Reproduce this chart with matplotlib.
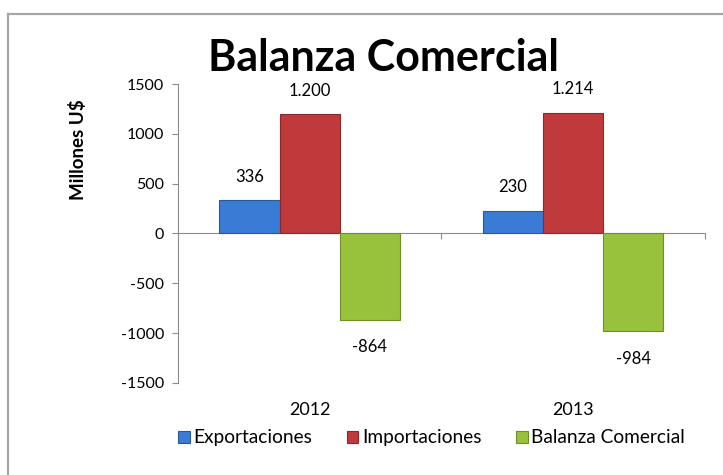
import numpy as np
import matplotlib
matplotlib.use("Agg")
import matplotlib.pyplot as plt
from matplotlib.lines import Line2D

plt.rcParams['font.family'] = ['Lato', 'DejaVu Sans']
plt.rcParams['axes.unicode_minus'] = False

years = ['2012', '2013']
series = ['Exportaciones', 'Importaciones', 'Balanza Comercial']
exportaciones = [336, 230]
importaciones = [1200, 1214]
balanza = [-864, -984]
colors = ['#3a7bd5', '#c0393b', '#98c23c']
edges = ['#2a5a98', '#8c2a2b', '#6f8f2a']


def fmt(v):
    return f"{v:,}".replace(",", ".")


fig = plt.figure(figsize=(7.23, 4.75), dpi=100)
ax = fig.add_axes([0.246, 0.194, 0.729, 0.629])

x = np.arange(len(years))
w = 0.228
for i, (vals, name) in enumerate(zip([exportaciones, importaciones, balanza], series)):
    bars = ax.bar(x + (i - 1) * w, vals, w, color=colors[i], edgecolor=edges[i],
                  linewidth=0.8, label=name, zorder=3)
    for b, v in zip(bars, vals):
        off = 11 if v > 0 else -14
        ax.annotate(fmt(v), (b.get_x() + b.get_width() / 2, v),
                    xytext=(0, off), textcoords='offset points',
                    ha='center', va='bottom' if v > 0 else 'top', fontsize=12)

ax.set_xlim(-0.5, 1.5)
ax.set_ylim(-1500, 1500)
ax.set_yticks(np.arange(-1500, 1501, 500))
ax.tick_params(axis='y', labelsize=11.5, color='#8c8c8c', length=4, pad=6)

for s in ['top', 'right']:
    ax.spines[s].set_visible(False)
ax.spines['left'].set_color('#8c8c8c')
ax.spines['bottom'].set_position(('data', 0))
ax.spines['bottom'].set_color('#8c8c8c')
ax.set_xticks([0.5, 1.5])
ax.set_xticklabels([])
ax.tick_params(axis='x', direction='out', length=4, color='#8c8c8c')

for xi, yr in zip(x, years):
    ax.text(xi, -0.09, yr, transform=ax.get_xaxis_transform(),
            ha='center', va='center', fontsize=13)

ax.set_ylabel('Millones U$', fontsize=13.5, fontweight='bold')
ax.yaxis.set_label_coords(-0.172, 0.78)

fig.text(0.53, 0.878, 'Balanza Comercial', ha='center', va='center',
         fontsize=31, fontweight='bold')

fig.legend(loc='center', bbox_to_anchor=(0.597, 0.078), ncol=3, frameon=False,
           handlelength=0.6, handleheight=0.6, handletextpad=0.2,
           columnspacing=1.8, fontsize=13.8)

# outer chart frame
fig.add_artist(Line2D([8 / 723, 8 / 723], [0, 1 - 14 / 475], color='#a6a6a6', lw=1.6))
fig.add_artist(Line2D([8 / 723, 1], [1 - 14 / 475, 1 - 14 / 475], color='#a6a6a6', lw=1.6))

fig.savefig('out.png', dpi=100)
